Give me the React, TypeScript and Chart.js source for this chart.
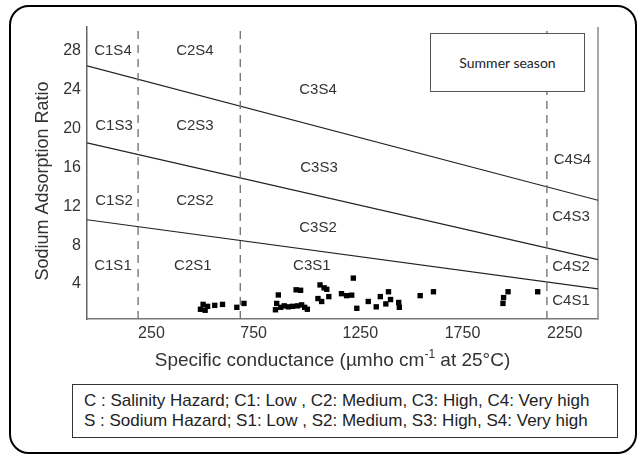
import React, { useEffect, useRef } from 'react';
import { Chart, registerables } from 'chart.js';

Chart.register(...registerables);

// Axis definitions
const xTicks = [250, 750, 1250, 1750, 2250];
const yTicks = [4, 8, 12, 16, 20, 24, 28];
const ecMin = 0;
const ecMax = 2500;
const sarMin = 0;
const sarMax = 30;

// Salinity class boundaries (EC, dashed verticals)
const ecBoundaries = [250, 750, 2250];

// Sodium class boundary lines: SAR at EC = 0 and at EC = 2500
const lineS1S2 = [10.2, 3.1];
const lineS2S3 = [18.1, 6.1];
const lineS3S4 = [26.0, 12.2];

// Summer season samples
const sampleEC = [
  555, 568, 578, 590, 625, 663, 733, 768,
  922, 928, 936, 948, 965, 985, 1005, 1023, 1030, 1045, 1050, 1065, 1078,
  1130, 1140, 1148, 1160, 1173, 1183,
  1245, 1270, 1295, 1303, 1320, 1376, 1415, 1435, 1462, 1475, 1485, 1525, 1528,
  1630, 1695, 2035, 2038, 2060, 2205,
];
const sampleSAR = [
  1.0, 1.5, 0.9, 1.3, 1.4, 1.5, 1.2, 1.6,
  0.95, 1.6, 2.47, 1.2, 1.35, 1.25, 1.3, 3.0, 1.35, 2.95, 1.45, 1.2, 1.0,
  2.1, 3.5, 1.8, 3.2, 3.05, 2.3,
  2.6, 2.4, 2.45, 4.2, 1.1, 1.8, 1.25, 2.3, 1.55, 2.8, 2.0, 1.7, 1.2,
  2.4, 2.8, 1.6, 2.2, 2.8, 2.8,
];

// Zone labels
const zoneNames = [
  'C1S4', 'C2S4', 'C3S4', 'C4S4',
  'C1S3', 'C2S3', 'C3S3', 'C4S3',
  'C1S2', 'C2S2', 'C3S2', 'C4S2',
  'C1S1', 'C2S1', 'C3S1', 'C4S1',
];
const zoneEC = [
  127, 528, 1130, 2375,
  132, 528, 1135, 2368,
  132, 528, 1130, 2368,
  127, 518, 1100, 2368,
];
const zoneSAR = [
  27.6, 27.6, 23.5, 16.3,
  19.8, 19.8, 15.5, 10.5,
  12.1, 12.1, 9.35, 5.35,
  5.45, 5.45, 5.45, 1.9,
];

const xTitleMain = 'Specific conductance (µmho cm';
const xTitleSup = '-1';
const xTitleEnd = ' at 25°C)';
const yTitle = 'Sodium Adsorption Ratio';
const legendLines = [
  'C : Salinity Hazard; C1: Low , C2: Medium, C3: High, C4: Very high',
  'S : Sodium Hazard; S1: Low , S2: Medium, S3: High, S4: Very high',
];
const seasonLabel = 'Summer season';

const SANS = '"Liberation Sans", Arial, sans-serif';

const decorPlugin = {
  id: 'decor',
  beforeDatasetsDraw(chart: any) {
    const { ctx, chartArea } = chart;
    ctx.save();
    ctx.strokeStyle = '#888';
    ctx.lineWidth = 1.5;
    ctx.beginPath();
    ctx.moveTo(chartArea.right, chartArea.top);
    ctx.lineTo(chartArea.right, chartArea.bottom);
    ctx.stroke();
    ctx.restore();
  },
  afterDatasetsDraw(chart: any) {
    const { ctx, chartArea, scales } = chart;
    ctx.save();
    ctx.fillStyle = '#333';
    ctx.font = `15px ${SANS}`;
    ctx.textAlign = 'center';
    ctx.textBaseline = 'middle';
    zoneNames.forEach((n, i) => {
      ctx.fillText(n, scales.x.getPixelForValue(zoneEC[i]), scales.y.getPixelForValue(zoneSAR[i]));
    });

    // x title
    const big = `19px ${SANS}`;
    const small = `12px ${SANS}`;
    ctx.font = big;
    const w1 = ctx.measureText(xTitleMain).width;
    const w3 = ctx.measureText(xTitleEnd).width;
    ctx.font = small;
    const w2 = ctx.measureText(xTitleSup).width;
    const total = w1 + w2 + w3;
    const cx = (chartArea.left + chartArea.right) / 2 - 10;
    const ty = chartArea.bottom + 42;
    const x0 = cx - total / 2;
    ctx.textAlign = 'left';
    ctx.textBaseline = 'middle';
    ctx.fillStyle = '#333';
    ctx.font = big;
    ctx.fillText(xTitleMain, x0, ty);
    ctx.font = small;
    ctx.fillText(xTitleSup, x0 + w1, ty - 6);
    ctx.font = big;
    ctx.fillText(xTitleEnd, x0 + w1 + w2, ty);

    // y title
    ctx.save();
    ctx.translate(chartArea.left - 44, (chartArea.top + chartArea.bottom) / 2 + 8);
    ctx.rotate(-Math.PI / 2);
    ctx.textAlign = 'center';
    ctx.font = `18px ${SANS}`;
    ctx.fillText(yTitle, 0, 0);
    ctx.restore();
    ctx.restore();
  },
};

function App() {
  const canvasRef = useRef<HTMLCanvasElement | null>(null);

  useEffect(() => {
    if (!canvasRef.current) return;
    const mkLine = (a: number[]) => ({
      data: [
        { x: ecMin, y: a[0] },
        { x: ecMax, y: a[1] },
      ],
      showLine: true,
      borderColor: '#222',
      borderWidth: 1.2,
      pointRadius: 0,
      fill: false,
    });
    const dashed = ecBoundaries.map((v) => ({
      data: [
        { x: v, y: sarMin },
        { x: v, y: sarMax },
      ],
      showLine: true,
      borderColor: '#777',
      borderWidth: 1.4,
      borderDash: [8, 6],
      pointRadius: 0,
      fill: false,
    }));
    const chart = new Chart(canvasRef.current, {
      type: 'scatter',
      data: {
        datasets: [
          ...dashed,
          mkLine(lineS1S2),
          mkLine(lineS2S3),
          mkLine(lineS3S4),
          {
            data: sampleEC.map((x, i) => ({ x, y: sampleSAR[i] })),
            pointStyle: 'rect',
            pointRadius: 3.8,
            backgroundColor: '#000',
            borderWidth: 0,
            showLine: false,
          } as any,
        ],
      },
      options: {
        animation: false,
        responsive: false,
        devicePixelRatio: 1,
        layout: { padding: { left: 47, right: 39, top: 27, bottom: 107 } },
        plugins: { legend: { display: false }, tooltip: { enabled: false } },
        scales: {
          x: {
            type: 'linear',
            min: ecMin,
            max: ecMax,
            afterBuildTicks: (s: any) => {
              s.ticks = xTicks.map((v) => ({ value: v }));
            },
            afterFit: (s: any) => {
              s.height = 30;
            },
            grid: { display: false, drawTicks: false },
            border: { display: true, color: '#777', width: 1.5 },
            ticks: {
              align: 'start',
              autoSkip: false,
              maxRotation: 0,
              padding: 5,
              color: '#333',
              font: { family: SANS, size: 16 },
              callback: (v: any) => String(v),
            },
          },
          y: {
            type: 'linear',
            min: sarMin,
            max: sarMax,
            afterBuildTicks: (s: any) => {
              s.ticks = yTicks.map((v) => ({ value: v }));
            },
            afterFit: (s: any) => {
              s.width = 40;
            },
            grid: { display: false, drawTicks: false },
            border: { display: true, color: '#666', width: 1.5 },
            ticks: {
              padding: 6,
              labelOffset: 4,
              color: '#333',
              font: { family: SANS, size: 16 },
              callback: (v: any) => String(v),
            },
          },
        },
      } as any,
      plugins: [decorPlugin],
    });
    return () => chart.destroy();
  }, []);

  return (
    <div style={{ position: 'absolute', left: 0, top: 0, width: 637, height: 456, background: '#fff', overflow: 'hidden' }}>
      <canvas ref={canvasRef} width={637} height={456} style={{ position: 'absolute', left: 0, top: 0, width: 637, height: 456 }} />
      <div
        style={{
          position: 'absolute', left: 9, top: 5, width: 628, height: 449,
          border: '2.5px solid #000', borderRadius: 20, boxSizing: 'border-box', pointerEvents: 'none',
        }}
      />
      <div
        style={{
          position: 'absolute', left: 430, top: 33, width: 155, height: 59,
          border: '1px solid #555', boxSizing: 'border-box', background: '#fff',
          display: 'flex', alignItems: 'center', justifyContent: 'center',
          fontFamily: 'Lato, "Open Sans", sans-serif', fontSize: 14, color: '#222',
        }}
      >
        {seasonLabel}
      </div>
      <div
        style={{
          position: 'absolute', left: 72, top: 384, width: 546, height: 54,
          border: '1.5px solid #333', boxSizing: 'border-box', background: '#fff',
          padding: '6px 0 0 11px', fontFamily: SANS, fontSize: 17, lineHeight: '20px', color: '#222',
          whiteSpace: 'nowrap',
        }}
      >
        {legendLines.map((l, i) => (
          <div key={i}>{l}</div>
        ))}
      </div>
    </div>
  );
}

export default App;
